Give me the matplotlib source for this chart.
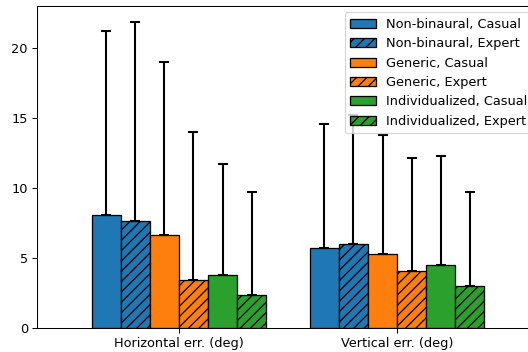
import numpy as np
import matplotlib
matplotlib.use("Agg")
import matplotlib.pyplot as plt

# Data
groups = ["Horizontal err. (deg)", "Vertical err. (deg)"]
labels = ["Non-binaural, Casual", "Non-binaural, Expert",
          "Generic, Casual", "Generic, Expert",
          "Individualized, Casual", "Individualized, Expert"]
means = [
    [8.07, 5.75],
    [7.64, 6.01],
    [6.66, 5.28],
    [3.44, 4.08],
    [3.77, 4.49],
    [2.36, 3.03],
]
errs = [
    [13.12, 8.81],
    [14.24, 9.20],
    [12.31, 8.51],
    [10.54, 8.07],
    [7.95, 7.78],
    [7.35, 6.66],
]
colors = ["tab:blue", "tab:blue", "tab:orange", "tab:orange", "tab:green", "tab:green"]
hatches = [None, "///", None, "///", None, "///"]

DPI = 93  # reference looks like a slightly scaled-down 100 dpi render


def main():
    fig = plt.figure(figsize=(528 / DPI, 352 / DPI), dpi=DPI)
    # axes run past the right edge, as in the cropped reference
    ax = fig.add_axes([37 / 528, 24 / 352, 502 / 528, 322 / 352])

    x = np.arange(len(groups))
    width = 0.8 / len(labels)
    for i, lab in enumerate(labels):
        pos = x + (i - 2.5) * width
        yerr = [np.zeros(len(groups)), errs[i]]
        ax.bar(pos, means[i], width, color=colors[i], hatch=hatches[i],
               edgecolor="black", linewidth=1, label=lab,
               yerr=yerr, capsize=4,
               error_kw=dict(elinewidth=1.6, capthick=1.6, ecolor="black"))

    ax.set_xticks(x)
    ax.set_xticklabels(groups)
    ax.set_xlim(-0.65, 1.65)
    ax.set_ylim(0, 23.0)
    ax.set_yticks([0, 5, 10, 15, 20])
    ax.legend(loc="upper right")

    fig.savefig("out.png", dpi=DPI)


if __name__ == "__main__":
    main()
